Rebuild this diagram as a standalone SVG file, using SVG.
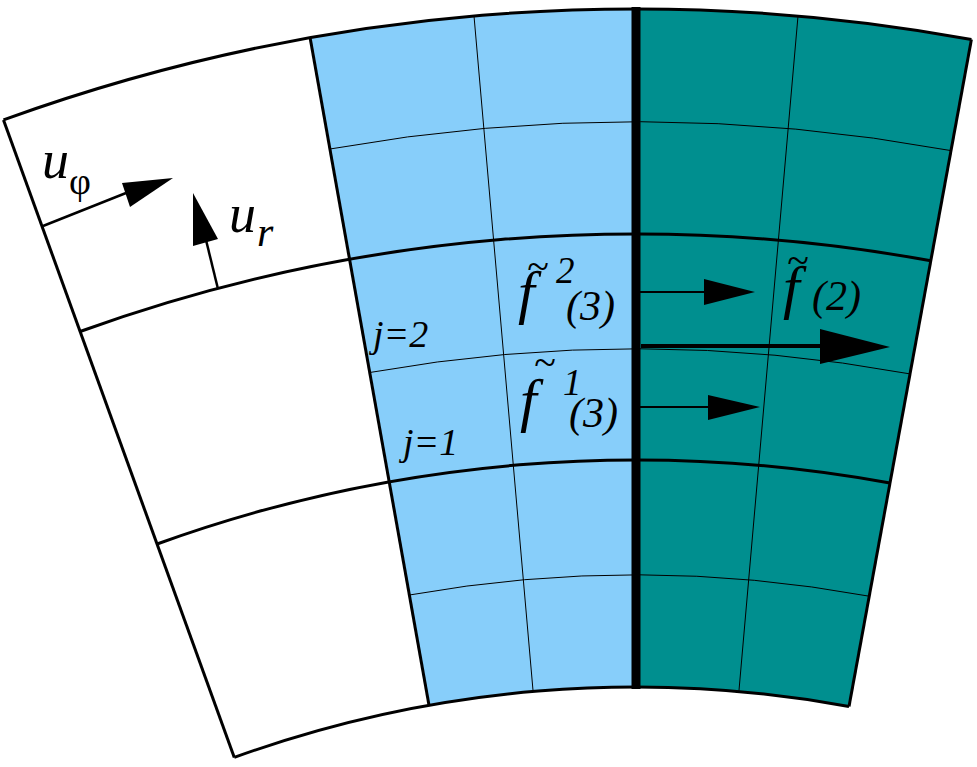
<svg xmlns="http://www.w3.org/2000/svg" width="977" height="767" viewBox="0 0 977 767">
<style>
.thin{fill:none;stroke:#000;stroke-width:1}
.thick{fill:none;stroke:#000;stroke-width:3}
.t{font-family:"Liberation Serif","Times New Roman","DejaVu Serif",serif;font-style:italic;fill:#000}
.n{font-family:"Liberation Serif","Times New Roman","DejaVu Serif",serif;fill:#000}
</style>
<rect width="977" height="767" fill="#fff"/>
<g id="regions">
<path d="M310.1,37.8 A1858,1858 0 0 1 636,9 L636,687 A1180,1180 0 0 0 429,705.3 Z" fill="#87CEFA"/>
<path d="M636,9 A1858,1858 0 0 1 971.4,39.5 L849,706.4 A1180,1180 0 0 0 636,687 Z" fill="#008F8F"/>
</g>
<g id="grid">
<path class="thin" d="M329.9,149 A1745,1745 0 0 1 951,150.6"/>
<path class="thin" d="M369.7,372.5 A1518,1518 0 0 1 910,373.9"/>
<path class="thin" d="M409.4,595 A1292,1292 0 0 1 869.2,596.2"/>
<line class="thin" x1="474" y1="16" x2="533.1" y2="691.5"/>
<line class="thin" x1="798" y1="16" x2="738.9" y2="691.5"/>
<path class="thick" d="M3.5,119.9 A1858,1858 0 0 1 971.4,39.5"/>
<path class="thick" d="M234.3,757.4 A1180,1180 0 0 1 849,706.4"/>
<path class="thick" d="M80.1,331.5 A1633,1633 0 0 1 930.8,260.8"/>
<path class="thick" d="M157.1,544 A1407,1407 0 0 1 890,483.1"/>
<line class="thick" x1="3.5" y1="119.9" x2="234.3" y2="757.4" stroke-width="2.5"/>
<line class="thick" x1="310.1" y1="37.8" x2="429" y2="705.3" stroke-width="2.5"/>
<line class="thick" x1="971.4" y1="39.5" x2="849" y2="706.4" stroke-width="2.5"/>
<line x1="636" y1="7" x2="636" y2="689" stroke="#000" stroke-width="9"/>
</g>
<g id="connectors">
<path d="M43,226 L126,193" stroke="#000" stroke-width="2.5" fill="none"/>
<path d="M122,183 L173,178 L130,207 Z"/>
<path d="M218,289 L206,240" stroke="#000" stroke-width="2.5" fill="none"/>
<path d="M193,246 L193,193 L218,239 Z"/>
<line x1="640" y1="292" x2="705" y2="292" stroke="#000" stroke-width="2"/>
<path d="M704,279 L755,292 L704,305 Z"/>
<line x1="640" y1="407" x2="710" y2="407" stroke="#000" stroke-width="2"/>
<path d="M708,395 L760,407 L708,420 Z"/>
<line x1="641" y1="346" x2="825" y2="346" stroke="#000" stroke-width="4"/>
<path d="M820,329 L890,347 L820,364 Z"/>
</g>
<g id="labels">
<text class="t" x="42" y="178" font-size="54">u</text>
<text class="n" x="69" y="194" font-size="38">φ</text>
<text class="t" x="229" y="232" font-size="54">u</text>
<text class="t" x="257" y="246" font-size="42">r</text>
<text class="t" x="373" y="347" font-size="38">j=2</text>
<text class="t" x="403" y="455" font-size="38">j=1</text>
<text class="n" x="538" y="280" font-size="40" text-anchor="middle">~</text>
<text class="t" x="518" y="312" font-size="60">f</text>
<text class="t" x="556" y="283" font-size="37">2</text>
<text class="t" x="566" y="320" font-size="42">(3)</text>
<text class="n" x="545" y="376" font-size="40" text-anchor="middle">~</text>
<text class="t" x="520" y="420" font-size="60">f</text>
<text class="t" x="563" y="395" font-size="37">1</text>
<text class="t" x="569" y="427" font-size="42">(3)</text>
<text class="n" x="798" y="274" font-size="40" text-anchor="middle">~</text>
<text class="t" x="783" y="307" font-size="60">f</text>
<text class="t" x="812" y="310" font-size="42">(2)</text>
</g>
</svg>
